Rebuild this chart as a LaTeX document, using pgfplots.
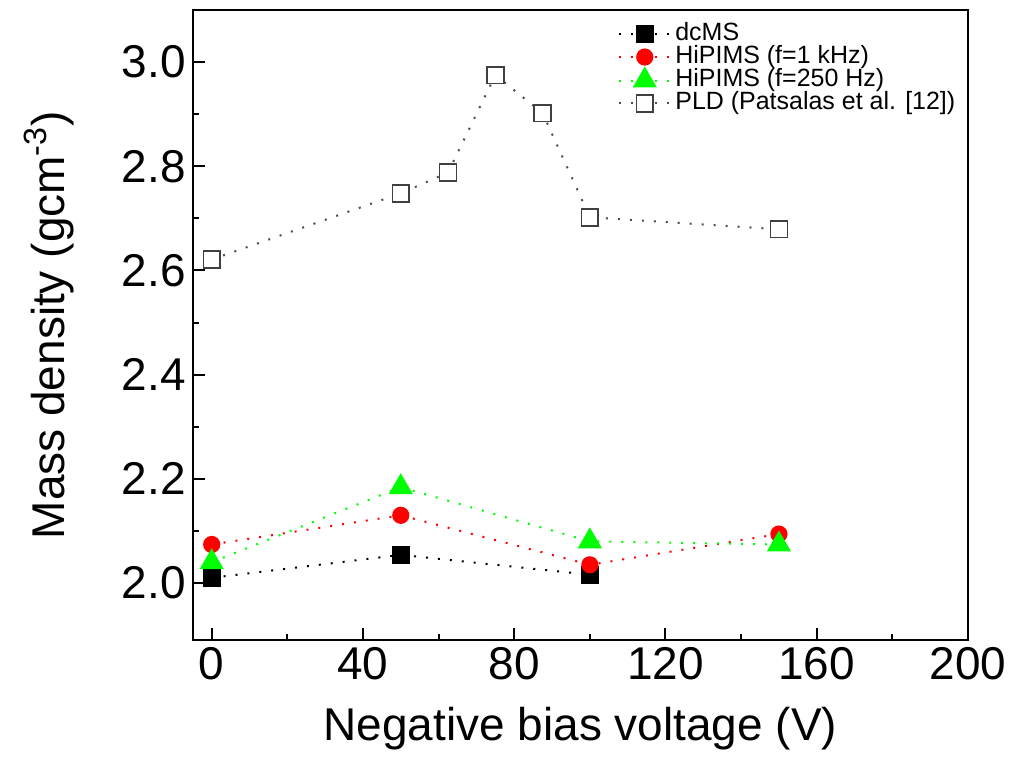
\documentclass[border=0pt]{standalone}
\usepackage{fontspec}
\setmainfont{Liberation Sans}
\usepackage{pgfplots}
\pgfplotsset{compat=1.18}

\begin{document}
\begin{tikzpicture}
\begin{axis}[
    name=ax,
    scale only axis,
    width=388pt, height=315.5pt,
    xmin=-5, xmax=200,
    ymin=1.89, ymax=3.10,
    xtick={0,40,80,120,160,200},
    ytick={2.0,2.2,2.4,2.6,2.8,3.0},
    minor x tick num=1,
    minor y tick num=1,
    tick align=inside,
    xtick pos=bottom, ytick pos=left,
    major tick length=6pt, minor tick length=3pt,
    every tick/.style={black, line width=1pt},
    axis line style={line width=1pt},
    /pgf/number format/assume math mode=true,
    /pgf/number format/fixed,
    /pgf/number format/fixed zerofill,
    /pgf/number format/precision=1,
    xticklabel={\pgfmathprintnumber[precision=0,fixed zerofill=false]{\tick}},
    tick label style={font=\fontsize{23}{26}\selectfont},
    label style={font=\fontsize{23}{26}\selectfont},
    xlabel={Negative bias voltage (V)},
    ylabel={Mass density (gcm\textsuperscript{-3})},
    ylabel shift=17pt,
    xlabel shift=7pt,
    legend style={draw=none, fill=none, at={(0.997,0.987)}, anchor=north east,
        font=\fontsize{12.5}{12.5}\selectfont,
        nodes={inner ysep=0.25pt, text height=8.7pt, text depth=2.3pt},
        cells={anchor=west}},
    legend image code/.code={
        \draw[mark repeat=2,mark phase=2,#1] plot coordinates {(0cm,0cm) (0.45cm,0cm) (0.9cm,0cm)};
    },
    every axis plot/.append style={line width=1pt, dash pattern=on 1pt off 5pt},
]

\addplot[black, mark=square*, mark size=4pt, mark options={solid}]
    coordinates {
    (0, 2.010)
    (50, 2.054)
    (100, 2.016)
    };
\addlegendentry{dcMS}

\addplot[red, mark=*, mark size=3.8pt, mark options={solid}]
    coordinates {
    (0, 2.074)
    (50, 2.130)
    (100, 2.035)
    (150, 2.094)
    };
\addlegendentry{HiPIMS (f=1 kHz)}

\addplot[green, mark=triangle*, mark size=6pt, mark options={solid}]
    coordinates {
    (0, 2.040)
    (50, 2.184)
    (100, 2.080)
    (150, 2.074)
    };
\addlegendentry{HiPIMS (f=250 Hz)}

\addplot[black!70, mark=square*, mark size=4.2pt, mark options={solid, fill=white, draw=black!75, line width=0.8pt}]
    coordinates {
    (0, 2.621)
    (50, 2.748)
    (62.5, 2.788)
    (75, 2.975)
    (87.5, 2.902)
    (100, 2.702)
    (150, 2.679)
    };
\addlegendentry{PLD (Patsalas et al. [12])}
\end{axis}
\path (ax.south west) ++(-96.5pt,-64pt) rectangle ++(506.5pt,384.5pt);
\end{tikzpicture}
\end{document}
